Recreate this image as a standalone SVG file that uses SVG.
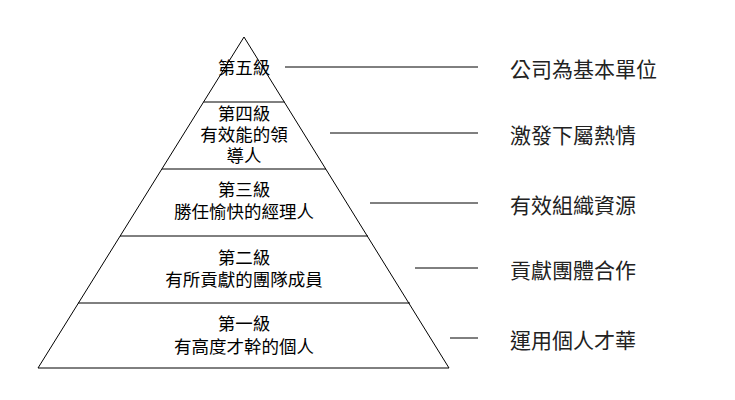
<svg xmlns="http://www.w3.org/2000/svg" width="735" height="400" viewBox="0 0 735 400">
<style>
.l{stroke:#000;stroke-width:1;fill:none}
.t{font-family:"Liberation Serif","Noto Sans CJK TC",serif;font-size:17.5px;text-anchor:middle;fill:#000}
.r{font-family:"Liberation Serif","Noto Sans CJK TC",serif;font-size:21px;fill:#222}
</style>
<rect width="735" height="400" fill="#fff"/>
<g id="pyramid">
<polygon class="l" points="244,37 38,368 449,368"/>
<line class="l" x1="203.5" y1="102" x2="284.5" y2="102"/>
<line class="l" x1="162" y1="169" x2="326" y2="169"/>
<line class="l" x1="120" y1="236" x2="368" y2="236"/>
<line class="l" x1="78" y1="303" x2="410" y2="303"/>
</g>
<g id="level5"><text class="t" x="244" y="74">第五級</text></g>
<g id="level4"><text class="t" x="244" y="120">第四級</text><text class="t" x="244" y="141">有效能的領</text><text class="t" x="244" y="162">導人</text></g>
<g id="level3"><text class="t" x="244" y="196">第三級</text><text class="t" x="244" y="218">勝任愉快的經理人</text></g>
<g id="level2"><text class="t" x="244" y="264">第二級</text><text class="t" x="244" y="286">有所貢獻的團隊成員</text></g>
<g id="level1"><text class="t" x="244" y="330">第一級</text><text class="t" x="244" y="353">有高度才幹的個人</text></g>
<g id="connectors">
<line class="l" x1="285" y1="67" x2="478" y2="67"/>
<line class="l" x1="330" y1="133" x2="478" y2="133"/>
<line class="l" x1="370" y1="203" x2="478" y2="203"/>
<line class="l" x1="415" y1="268" x2="478" y2="268"/>
<line class="l" x1="450" y1="338" x2="478" y2="338"/>
</g>
<g id="desc">
<text class="r" x="510" y="77">公司為基本單位</text>
<text class="r" x="510" y="143">激發下屬熱情</text>
<text class="r" x="510" y="213">有效組織資源</text>
<text class="r" x="510" y="278">貢獻團體合作</text>
<text class="r" x="510" y="348">運用個人才華</text>
</g>
</svg>
